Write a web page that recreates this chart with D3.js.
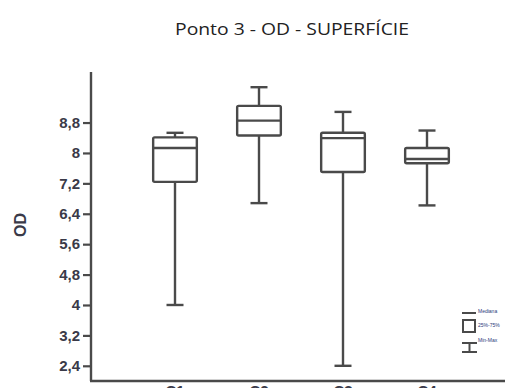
<!DOCTYPE html>
<html>
<head>
<meta charset="utf-8">
<script src="https://cdn.jsdelivr.net/npm/d3@7"></script>
<style>
  html, body { margin: 0; padding: 0; background: #fff; }
  svg { display: block; }
</style>
</head>
<body>
<svg id="chart" width="526" height="388"></svg>
<script>
// Dissolved oxygen (OD) at point 3, surface samples
const categories = ["C1", "C2", "C3", "C4"];
const minValues    = [4.00, 6.68, 2.40, 6.62];
const q1Values     = [7.24, 8.46, 7.50, 7.73];
const medianValues = [8.13, 8.85, 8.39, 7.84];
const q3Values     = [8.41, 9.24, 8.53, 8.13];
const maxValues    = [8.53, 9.73, 9.08, 8.59];
const tickValues = [2.4, 3.2, 4, 4.8, 5.6, 6.4, 7.2, 8, 8.8];
const legendLabels = ["Mediana", "25%-75%", "Min-Max"];

const boxes = categories.map((c, i) => ({
  cat: c, min: minValues[i], q1: q1Values[i], med: medianValues[i],
  q3: q3Values[i], max: maxValues[i]
}));

const svg = d3.select("#chart");
const stroke = "#4a4a4a";
const labelFill = "#3a3a48";
const plotLeft = 91, plotRight = 505, plotTop = 72, plotBottom = 381;

const y = d3.scaleLinear().domain([2.0, 10.13]).range([plotBottom, plotTop]);
const x = d3.scaleBand().domain(categories).range([133, 469]).paddingInner(0.48).paddingOuter(0.24);

// Title
svg.append("text")
  .attr("x", 292).attr("y", 35)
  .attr("text-anchor", "middle")
  .attr("font-family", "'Open Sans', Lato, sans-serif")
  .attr("font-size", 17)
  .attr("textLength", 234)
  .attr("lengthAdjust", "spacingAndGlyphs")
  .attr("fill", "#222")
  .text("Ponto 3 - OD - SUPERFÍCIE");

// Y axis
const yAxis = d3.axisLeft(y)
  .tickValues(tickValues)
  .tickSize(8)
  .tickSizeOuter(0)
  .tickPadding(3)
  .tickFormat(d => d3.format("")(d).replace(".", ","));

const gy = svg.append("g").attr("transform", `translate(${plotLeft},0)`).call(yAxis);
gy.select(".domain").remove();
gy.selectAll(".tick line").attr("stroke", stroke).attr("stroke-width", 2.2);
gy.selectAll(".tick text")
  .attr("font-family", "'Liberation Sans', Arial, sans-serif")
  .attr("font-size", 15)
  .attr("font-weight", "bold")
  .attr("fill", labelFill);

svg.append("line")
  .attr("x1", plotLeft).attr("x2", plotLeft).attr("y1", plotTop).attr("y2", plotBottom)
  .attr("stroke", stroke).attr("stroke-width", 2.4);

// X axis (category labels sit just below the frame edge)
const xAxis = d3.axisBottom(x).tickSize(0).tickPadding(4);
const gx = svg.append("g").attr("transform", `translate(0,${plotBottom})`).call(xAxis);
gx.select(".domain").remove();
gx.selectAll(".tick text")
  .attr("font-family", "'Liberation Sans', Arial, sans-serif")
  .attr("font-size", 15)
  .attr("font-weight", "bold")
  .attr("fill", labelFill);

svg.append("line")
  .attr("x1", plotLeft - 1).attr("x2", plotRight).attr("y1", plotBottom).attr("y2", plotBottom)
  .attr("stroke", stroke).attr("stroke-width", 2.4);

// Y axis title
svg.append("text")
  .attr("transform", `translate(26,${225}) rotate(-90)`)
  .attr("text-anchor", "middle")
  .attr("font-family", "'Liberation Sans', Arial, sans-serif")
  .attr("font-size", 16)
  .attr("font-weight", "bold")
  .attr("fill", labelFill)
  .text("OD");

// Box plots
const capW = 17;
const g = svg.append("g")
  .attr("fill", "none").attr("stroke", stroke).attr("stroke-width", 2.4);

const bx = g.selectAll("g.box").data(boxes).join("g").attr("class", "box");
const cx = d => x(d.cat) + x.bandwidth() / 2;

bx.append("line") // upper whisker
  .attr("x1", cx).attr("x2", cx)
  .attr("y1", d => y(d.max)).attr("y2", d => y(d.q3));
bx.append("line") // lower whisker
  .attr("x1", cx).attr("x2", cx)
  .attr("y1", d => y(d.q1)).attr("y2", d => y(d.min));
bx.append("line") // max cap
  .attr("x1", d => cx(d) - capW / 2).attr("x2", d => cx(d) + capW / 2)
  .attr("y1", d => y(d.max)).attr("y2", d => y(d.max));
bx.append("line") // min cap
  .attr("x1", d => cx(d) - capW / 2).attr("x2", d => cx(d) + capW / 2)
  .attr("y1", d => y(d.min)).attr("y2", d => y(d.min));
bx.append("rect")
  .attr("x", d => x(d.cat)).attr("width", x.bandwidth())
  .attr("y", d => y(d.q3)).attr("height", d => y(d.q1) - y(d.q3))
  .attr("fill", "#fff").attr("rx", 1.5);
bx.append("line") // median
  .attr("x1", d => x(d.cat)).attr("x2", d => x(d.cat) + x.bandwidth())
  .attr("y1", d => y(d.med)).attr("y2", d => y(d.med));

// Legend
const lg = svg.append("g").attr("stroke", stroke).attr("stroke-width", 2).attr("fill", "none");
lg.append("line").attr("x1", 462).attr("x2", 476).attr("y1", 313).attr("y2", 313);
lg.append("rect").attr("x", 463).attr("y", 320).attr("width", 12).attr("height", 12);
lg.append("line").attr("x1", 462).attr("x2", 477).attr("y1", 343).attr("y2", 343);
lg.append("line").attr("x1", 469.5).attr("x2", 469.5).attr("y1", 343).attr("y2", 352);
lg.append("line").attr("x1", 462).attr("x2", 477).attr("y1", 352).attr("y2", 352);

svg.append("g").selectAll("text").data(legendLabels).join("text")
  .attr("x", 478).attr("y", (d, i) => [313, 327, 342][i])
  .attr("font-family", "'Liberation Sans', Arial, sans-serif")
  .attr("font-size", 5)
  .attr("fill", "#2a3a7a")
  .text(d => d);
</script>
</body>
</html>
